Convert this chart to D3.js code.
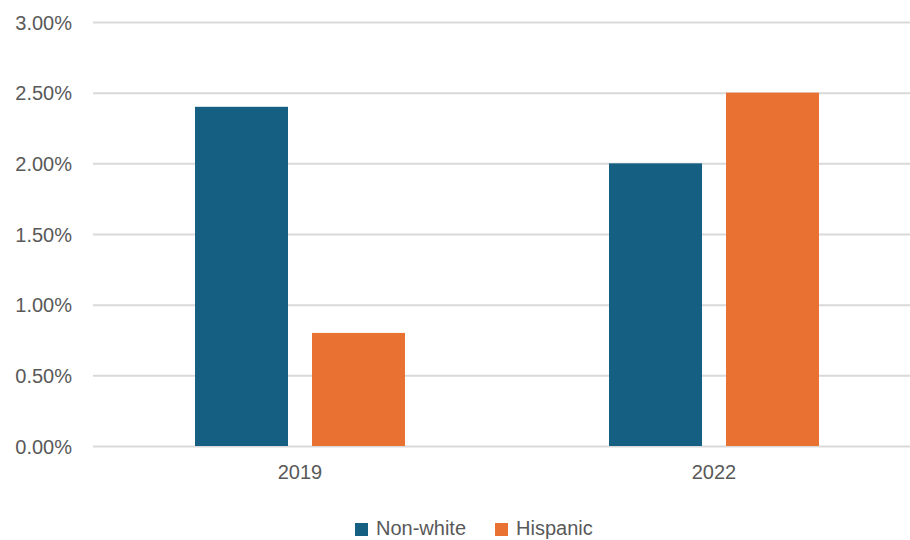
<!DOCTYPE html>
<html>
<head>
<meta charset="utf-8">
<script src="https://cdn.jsdelivr.net/npm/d3@7"></script>
<style>
  html, body { margin: 0; padding: 0; background: #fff; }
  text { font-family: "Liberation Sans", Arial, sans-serif; fill: #595959; }
</style>
</head>
<body>
<svg id="chart" width="910" height="540"></svg>
<script>
const years = ["2019", "2022"];
const series = ["Non-white", "Hispanic"];
const nonWhite = [0.024, 0.020];
const hispanic = [0.008, 0.025];
const yTicks = [0, 0.005, 0.01, 0.015, 0.02, 0.025, 0.03];

const svg = d3.select("#chart");
const colors = d3.scaleOrdinal().domain(series).range(["#156082", "#e97132"]);

const y = d3.scaleLinear().domain([0, 0.03]).range([446, 22]);
const x0 = d3.scaleBand().domain(years).range([93, 921]).padding(0);
const x1 = d3.scaleBand().domain(series).range([0, 210]).paddingInner(24 / 117);
const groupOffset = (x0.bandwidth() - 210) / 2;

const data = years.map((yr, i) => ({
  year: yr,
  values: [
    { key: "Non-white", value: nonWhite[i] },
    { key: "Hispanic", value: hispanic[i] }
  ]
}));

// gridlines
const grid = svg.append("g")
  .attr("transform", "translate(0,0)")
  .call(d3.axisLeft(y).tickValues(yTicks).tickSize(-(921 - 93)).tickFormat(""))
  .attr("transform", "translate(93,0)");
grid.select(".domain").remove();
grid.selectAll("line").attr("stroke", "#d9d9d9").attr("stroke-width", 2);

// y labels
const yAxis = svg.append("g")
  .attr("transform", "translate(72,0)")
  .call(d3.axisLeft(y).tickValues(yTicks).tickSize(0).tickPadding(0).tickFormat(d3.format(".2%")));
yAxis.select(".domain").remove();
yAxis.selectAll("text").style("font-size", "20px").attr("dy", "0.35em").style("fill", "#595959");

// bars
const groups = svg.append("g").selectAll("g")
  .data(data)
  .join("g")
  .attr("transform", d => `translate(${x0(d.year) + groupOffset},0)`);

groups.selectAll("rect")
  .data(d => d.values)
  .join("rect")
  .attr("x", d => x1(d.key))
  .attr("y", d => y(d.value))
  .attr("width", x1.bandwidth())
  .attr("height", d => y(0) - y(d.value))
  .attr("fill", d => colors(d.key));

// x labels
const xAxis = svg.append("g")
  .attr("transform", "translate(0,447)")
  .call(d3.axisBottom(x0).tickSize(0).tickPadding(18));
xAxis.select(".domain").remove();
xAxis.selectAll("text").style("font-size", "20px").style("fill", "#595959");

// legend
const legendPos = [355, 495];
const legend = svg.append("g").selectAll("g")
  .data(series)
  .join("g")
  .attr("transform", (d, i) => `translate(${legendPos[i]},523)`);
legend.append("rect")
  .attr("width", 13).attr("height", 13)
  .attr("fill", d => colors(d));
legend.append("text")
  .attr("x", 21).attr("y", 12)
  .style("font-size", "20px")
  .text(d => d);
</script>
</body>
</html>
